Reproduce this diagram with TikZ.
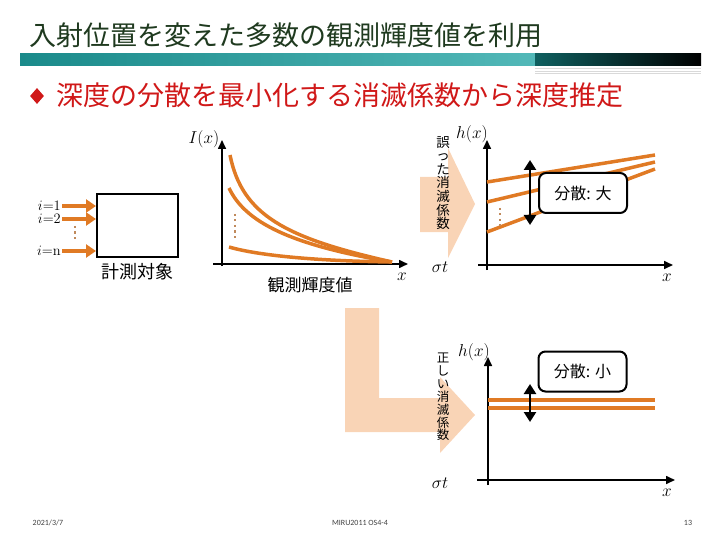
\documentclass[tikz,border=0pt]{standalone}
\usepackage{fontspec}
\newfontfamily\jpfont{Noto Sans CJK JP}
\newfontfamily\footfont{Carlito}
\usetikzlibrary{arrows.meta, positioning, shapes.geometric}

\begin{document}
\begin{tikzpicture}[x=1pt, y=-1pt,
    axis/.style={line width=1.6pt, -{Triangle[length=9pt,width=8pt]}},
    curve/.style={draw=curveColour, line width=3.5pt},
    beam/.style={draw=curveColour, line width=4.5pt, -{Triangle[length=10pt,width=13pt]}},
    spread/.style={line width=2.4pt, {Triangle[length=10pt,width=12pt]}-{Triangle[length=10pt,width=12pt]}},
    dots/.style={draw=dotColour, line width=2pt, dash pattern=on 2pt off 3.5pt},
    varbox/.style={draw, line width=2pt, rounded corners=7pt, fill=white,
        minimum width=88pt, minimum height=40pt, font=\jpfont\fontsize{16}{18}\selectfont},
    vtext/.style={align=center, inner sep=0pt, font=\jpfont\fontsize{13.5}{13.6}\selectfont},
    mlabel/.style={inner sep=0.5pt, font=\fontsize{17.28}{19}\selectfont},
    raytag/.style={inner sep=0pt, font=\fontsize{14.4}{15}\selectfont},
    foot/.style={inner sep=0pt, text=footColour, font=\footfont\fontsize{8}{9}\selectfont}]
    % Define colours
    \definecolor{titleColour}{HTML}{1F3A1F}
    \definecolor{tealLeft}{HTML}{1A8A8A}
    \definecolor{tealRight}{HTML}{52B8B8}
    \definecolor{darkTeal}{HTML}{0F6060}
    \definecolor{bulletRed}{HTML}{D01818}
    \definecolor{curveColour}{HTML}{E07A24}
    \definecolor{dotColour}{HTML}{C08A5C}
    \definecolor{peachColour}{HTML}{F9D4B6}
    \definecolor{footColour}{HTML}{404040}

    % Fix page size
    \useasboundingbox (0,0) rectangle (720,540);

    % Title and band
    \node[anchor=west, inner sep=0pt, text=titleColour, font=\jpfont\fontsize{27}{30}\selectfont] (title) at (29,35) {入射位置を変えた多数の観測輝度値を利用};
    \shade[left color=tealLeft, right color=tealRight] (20,54) rectangle (535,66);
    \shade[left color=darkTeal, right color=black] (535,54) rectangle (701,66);
    \foreach \y in {68.5,71,73.5}
        \draw[gray!30, line width=0.6pt] (535,\y) -- (701,\y);

    % Bullet line
    \node[diamond, fill=bulletRed, inner sep=0pt, minimum width=14pt, minimum height=16pt] (bullet) at (37,96) {};
    \node[anchor=west, inner sep=0pt, text=bulletRed, font=\jpfont\fontsize{27}{30}\selectfont] (point) at (56,95) {深度の分散を最小化する消滅係数から深度推定};

    % Peach arrows (behind everything else)
    \fill[peachColour] (420,177) -- (448,177) -- (448,148) -- (475,204) -- (448,258) -- (448,232) -- (420,232) -- cycle;
    \fill[peachColour] (345,308) -- (379,308) -- (379,398) -- (440,398) -- (440,377) -- (475,415) -- (440,453) -- (440,432) -- (345,432) -- cycle;

    % Measured object with incoming rays
    \node[draw, line width=2pt, minimum width=81pt, minimum height=63pt] (target) at (137.5,225.5) {};
    \node[below=5pt of target, inner sep=0pt, font=\jpfont\fontsize{18}{20}\selectfont] (targetlabel) {計測対象};
    \foreach \n/\y/\t in {1/206/1, 2/219/2, 3/251/n} {
        \coordinate (ray\n) at (62,\y);
        \node[raytag, anchor=east] (raylabel\n) at ([xshift=-1pt]ray\n) {$i$=\t};
        \draw[beam] (ray\n) -- (ray\n -| target.west);
    }
    \draw[dots] (75,226) -- (75,242);

    % Observed intensity graph
    \coordinate (ioy0) at (222,266);
    \coordinate (ioy1) at (222,140);
    \coordinate (iox0) at (213,264);
    \coordinate (iox1) at (408,264);
    \draw[axis] (ioy0) -- (ioy1);
    \draw[axis] (iox0) -- (iox1);
    \node[mlabel] (ilabel) at (204,139) {$I(x)$};
    \node[mlabel] (ixlabel) at (402,277) {$x$};
    \node[inner sep=0pt, font=\jpfont\fontsize{17}{19}\selectfont] (ilabeltext) at (310,285) {観測輝度値};
    \coordinate (meet) at (392,262);
    \coordinate (istart1) at (230,155);
    \coordinate (istart2) at (229,188);
    \coordinate (istart3) at (229,247);
    \draw[curve] (istart1) .. controls (242,215) and (285,238) .. (meet);
    \draw[curve] (istart2) .. controls (245,222) and (290,245) .. (meet);
    \draw[curve] (istart3) .. controls (260,256) and (320,261) .. (meet);
    \draw[dots] (235,214) -- (235,240);

    % Depth graph with wrong coefficient
    \node[vtext] (wrongtext) at (443,183) {誤\\っ\\た\\消\\滅\\係\\数};
    \node[mlabel] (sigma1) at (440,267) {$\sigma t$};
    \coordinate (hay0) at (487,270);
    \coordinate (hay1) at (487,140);
    \coordinate (hax0) at (478,265);
    \coordinate (hax1) at (673,265);
    \draw[axis] (hay0) -- (hay1);
    \draw[axis] (hax0) -- (hax1);
    \node[mlabel] (halabel) at (472,134) {$h(x)$};
    \node[mlabel] (haxlabel) at (667,278) {$x$};
    \foreach \n/\a/\b in {1/182/155, 2/202/162, 3/232/169} {
        \coordinate (wl\n) at (487,\a);
        \coordinate (wr\n) at (655,\b);
        \draw[curve] (wl\n) -- (wr\n);
    }
    \draw[dots] (500,208) -- (500,226);
    \coordinate (bigtop) at (530,160);
    \coordinate (bigbot) at (530,225);
    \draw[spread] (bigtop) -- (bigbot);
    \node[varbox] (bigvar) at (583,193) {分散: 大};

    % Depth graph with correct coefficient
    \node[vtext, font=\jpfont\fontsize{12.5}{12.9}\selectfont] (righttext) at (443,397) {正\\し\\い\\消\\滅\\係\\数};
    \node[mlabel] (sigma2) at (440,483) {$\sigma t$};
    \coordinate (hby0) at (488,485);
    \coordinate (hby1) at (488,357);
    \coordinate (hbx0) at (477,480);
    \coordinate (hbx1) at (675,480);
    \draw[axis] (hby0) -- (hby1);
    \draw[axis] (hbx0) -- (hbx1);
    \node[mlabel] (hblabel) at (474,352) {$h(x)$};
    \node[mlabel] (hbxlabel) at (667,493) {$x$};
    \foreach \n/\y in {1/400, 2/408} {
        \coordinate (cl\n) at (488,\y);
        \coordinate (cr\n) at (655,\y);
        \draw[curve, line width=4.5pt] (cl\n) -- (cr\n);
    }
    \coordinate (smalltop) at (530,384);
    \coordinate (smallbot) at (530,422);
    \draw[spread] (smalltop) -- (smallbot);
    \node[varbox] (smallvar) at (582.5,371.5) {分散: 小};

    % Footer
    \node[foot] (date) at (48,523) {2021/3/7};
    \node[foot] (event) at (360,523) {MIRU2011 OS4-4};
    \node[foot] (page) at (688,523) {13};
\end{tikzpicture}
\end{document}
